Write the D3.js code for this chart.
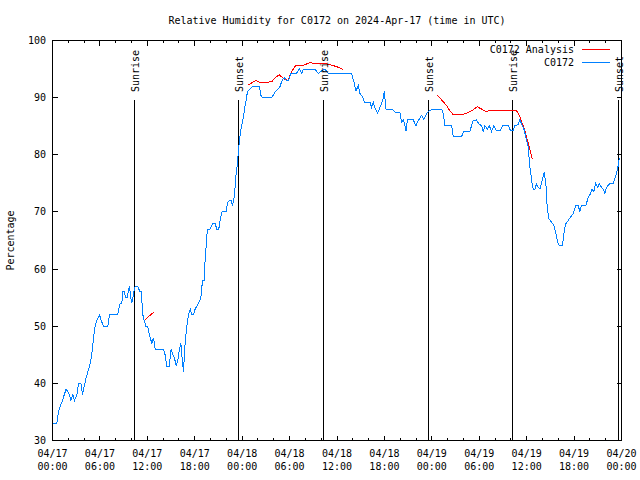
<!DOCTYPE html>
<html>
<head>
<meta charset="utf-8">
<script src="https://cdn.jsdelivr.net/npm/d3@7/dist/d3.min.js"></script>
<style>
  html, body { margin: 0; padding: 0; background: #fff; }
  svg { display: block; }
  text { font-family: "DejaVu Sans Mono", monospace; font-size: 10px; fill: #000; }
</style>
</head>
<body>
<svg id="chart" width="640" height="480"></svg>
<script>
// ---- Data (hours since 2024-04-17 00:00 UTC) ----
const titleText = "Relative Humidity for C0172 on 2024-Apr-17 (time in UTC)";
const yLabel = "Percentage";
const seriesNames = ["C0172 Analysis", "C0172"];
const yTicks = [30, 40, 50, 60, 70, 80, 90, 100];

const obsHours = [0.0,0.55,0.76,0.97,1.27,1.48,1.73,2.16,2.32,2.58,2.79,3.08,3.29,3.59,3.80,4.01,4.26,4.47,4.68,4.85,
  5.06,5.19,5.40,5.61,5.95,6.16,6.46,7.0,7.21,8.23,8.39,8.56,8.77,8.9,9.07,9.24,9.49,9.62,9.74,9.91,
  10.04,10.17,10.29,10.46,10.75,11.09,11.22,11.3,11.43,11.6,11.81,12.02,12.19,12.36,12.57,12.78,12.99,14.04,14.25,14.46,
  14.76,15.01,15.22,15.43,15.65,15.86,16.07,16.24,16.4,16.57,16.78,17.0,17.2,17.42,17.63,17.84,18.05,18.47,18.77,18.98,
  19.19,19.31,19.44,19.6,19.94,20.28,20.57,20.79,21.04,21.2,21.46,21.97,22.13,22.35,22.6,22.77,22.98,23.1,23.23,23.4,
  23.53,23.65,23.82,23.99,24.16,24.33,24.5,24.66,25.0,25.3,25.63,25.93,26.18,26.35,26.6,27.74,28.04,28.29,28.59,28.8,
  29.05,29.3,29.64,29.85,30.15,30.78,31.0,31.24,31.54,31.75,33.22,33.64,34.06,34.48,34.9,37.85,38.15,38.4,38.7,38.91,
  39.25,39.46,40.17,40.38,40.59,40.85,41.14,41.44,41.78,41.99,42.2,42.91,43.34,43.97,44.18,44.39,44.6,44.73,44.9,45.65,
  45.99,46.29,46.71,47.0,47.34,47.68,48.18,49.24,49.45,49.66,50.5,50.71,51.77,51.98,52.82,53.03,53.24,53.66,53.96,54.3,
  54.51,54.72,55.01,55.27,55.56,55.86,56.19,56.62,56.95,57.67,57.96,58.3,58.51,58.93,59.14,59.36,59.65,59.9,60.2,60.41,
  60.7,60.83,61.04,61.25,61.46,61.67,61.97,62.22,62.43,62.6,62.81,63.15,63.45,63.7,63.91,64.12,64.54,64.71,64.92,65.26,
  65.55,65.89,66.23,66.52,66.73,66.94,67.49,67.79,68.08,68.29,68.5,68.71,68.97,69.18,69.47,69.68,69.89,70.1,70.53,70.95,
  71.16,71.37,71.58,71.71,71.85];
const obsRH = [33,33,35,36,37,38,39,38,37,38,37,38,40,40,38,39.5,41,42,43,44,
  46,48,50,51,52,51,50,50,52,52,53,54,54,56,56,55,55,56.5,57,55,
  54,55,56,57,57,56,56,54.5,52,51,50,50,49,48,47,48,46,46,45,43,
  43,46,45,44.5,43,44,46,47,44.5,42,47,50,52,53,52,52,53,54,55,58,
  58,61.5,64,67,67,68,68,67,67,68.5,70,70,71.5,72,72,71,72.5,74.3,76.7,78.4,
  80.7,82.5,84.2,85.4,86.6,88.3,89.5,91,91.5,92,92,92,92,90.4,90,90,90.7,91.2,91.6,92,
  93,93.5,93,93,94.2,94.2,94.5,95,94.2,95,95,94.2,94.7,95,94.2,94.2,92.7,91.2,92.1,90.7,
  90.1,89.2,89.2,88.3,89.2,88,87.3,88.3,89.5,91.1,88,88,87.5,87.3,85.7,86.1,85.1,84.2,86.1,86.1,
  85.1,86,86.9,86.2,87.2,87.7,88,88,87.2,85.1,85.1,83.2,83.2,84,84.1,85.1,86,86.1,85.4,85.1,
  84.1,85.1,84.5,85.1,84.1,85.1,84.2,84.2,85.1,85.1,84.2,84.2,85.1,85.3,86.1,85.4,84.5,83.1,81.3,77.8,
  74.9,74,74,74.9,74.3,74,75.5,77,74.9,70.8,68.8,68.2,67.6,66.2,64.7,64.1,64.1,66.2,67.9,68.5,
  69.1,69.7,71.1,71.1,70.1,71.1,71.1,72.6,73.2,74,73.5,75,74.3,74.9,74.3,74,73.2,74.3,75,75,
  75.8,76.7,78.1,79.3,79.5];

// Analysis series; null marks a gap between segments
const anaHours = [11.73,12.1,12.5,12.86, null,
  24.79,25.21,25.8,26.18,26.69,27.32,27.83,28.16,28.71,29.25,29.8,30.27,30.8,31.75,32.17,32.59,33.3,34.7,35.33,35.97,36.39,36.72, null,
  48.69,49.24,49.87,50.29,50.71,51.77,52.4,53.03,53.75,54.3,54.8,55.27,58.72,59.06,59.36,59.65,59.99,60.33,60.7];
const anaRH = [51.1,51.6,52.1,52.5, null,
  92.2,92.6,93,92.7,92.6,92.7,92.9,93.5,94,93.3,93,94.6,95.7,95.7,95.9,96.1,96,95.9,95.7,95.4,95.2,94.9, null,
  90.4,89.6,88.6,87.7,87,87,87.3,87.7,88.4,88,87.6,87.7,87.7,86.9,85.8,84.8,83.1,81.3,79.3];

// Sun events (hours since start)
const sunHours = [10.42, 23.57, 34.27, 47.55, 58.17, 71.57];
const sunLabels = ["Sunrise", "Sunset", "Sunrise", "Sunset", "Sunrise", "Sunset"];
const sunLineTop = 89.6;

// ---- Chart ----
const startMs = Date.UTC(2024, 3, 17, 0, 0);
const toDate = h => new Date(startMs + h * 3600000);

const svg = d3.select("#chart");
const L = 52.5, R = 621.5, T = 40.5, B = 440.5;

const x = d3.scaleUtc().domain([toDate(0), toDate(72)]).range([L, R]);
const y = d3.scaleLinear().domain([30, 100]).range([B, T]);

const blue = "#0080ff", red = "#ff0000";

// title
svg.append("text").attr("x", (L + R) / 2).attr("y", 23.5)
  .attr("text-anchor", "middle").text(titleText);

// y label
svg.append("text").attr("transform", `translate(14,${(T + B) / 2}) rotate(-90)`)
  .attr("text-anchor", "middle").text(yLabel);

const g = svg.append("g").attr("shape-rendering", "crispEdges");

// ticks
const minorT = d3.utcHour.every(2).range(toDate(0), toDate(72.01));
const majorT = d3.utcHour.every(6).range(toDate(0), toDate(72.01));
minorT.forEach(d => {
  const xx = Math.round(x(d) - 0.5) + 0.5;
  g.append("line").attr("x1", xx).attr("x2", xx).attr("y1", B).attr("y2", B - 2.5).attr("stroke", "#000");
  g.append("line").attr("x1", xx).attr("x2", xx).attr("y1", T).attr("y2", T + 2.5).attr("stroke", "#000");
});
majorT.forEach(d => {
  const xx = Math.round(x(d) - 0.5) + 0.5;
  g.append("line").attr("x1", xx).attr("x2", xx).attr("y1", B).attr("y2", B - 5).attr("stroke", "#000");
  g.append("line").attr("x1", xx).attr("x2", xx).attr("y1", T).attr("y2", T + 5).attr("stroke", "#000");
  svg.append("text").attr("x", x(d)).attr("y", 457).attr("text-anchor", "middle").text(d3.utcFormat("%m/%d")(d));
  svg.append("text").attr("x", x(d)).attr("y", 470).attr("text-anchor", "middle").text(d3.utcFormat("%H:%M")(d));
});
yTicks.forEach(v => {
  const yy = Math.round(y(v) - 0.5) + 0.5;
  g.append("line").attr("x1", L).attr("x2", L + 5).attr("y1", yy).attr("y2", yy).attr("stroke", "#000");
  g.append("line").attr("x1", R).attr("x2", R - 5).attr("y1", yy).attr("y2", yy).attr("stroke", "#000");
  svg.append("text").attr("x", 46).attr("y", y(v)).attr("dy", "0.35em").attr("text-anchor", "end").text(v);
});

// sun lines
sunHours.forEach((h, i) => {
  const xx = Math.round(x(toDate(h)) - 0.5) + 0.5;
  g.append("line").attr("x1", xx).attr("x2", xx).attr("y1", y(30)).attr("y2", y(sunLineTop)).attr("stroke", "#000");
  svg.append("text").attr("transform", `translate(${xx + 1},92) rotate(-90)`)
    .attr("dy", "0.35em").attr("text-anchor", "start").text(sunLabels[i]);
});

// data lines (aliased, like the original bitmap output)
const obs = obsHours.map((h, i) => ({ t: toDate(h), v: obsRH[i] }));
const ana = anaHours.map((h, i) => ({ t: h == null ? null : toDate(h), v: anaRH[i] }));
const line = d3.line().defined(d => d.t != null && d.v != null).x(d => x(d.t)).y(d => y(d.v));

g.append("path").datum(ana).attr("d", line).attr("fill", "none").attr("stroke", red).attr("stroke-width", 1);
g.append("path").datum(obs).attr("d", line).attr("fill", "none").attr("stroke", blue).attr("stroke-width", 1);

// frame
g.append("rect").attr("x", L).attr("y", T).attr("width", R - L).attr("height", B - T)
  .attr("fill", "none").attr("stroke", "#000");

// legend
const legColors = [red, blue];
seriesNames.forEach((n, i) => {
  const ly = 49.5 + i * 13;
  svg.append("text").attr("x", 574).attr("y", ly).attr("dy", "0.35em").attr("text-anchor", "end").text(n);
  g.append("line").attr("x1", 582).attr("x2", 610).attr("y1", ly).attr("y2", ly).attr("stroke", legColors[i]);
});
</script>
</body>
</html>
